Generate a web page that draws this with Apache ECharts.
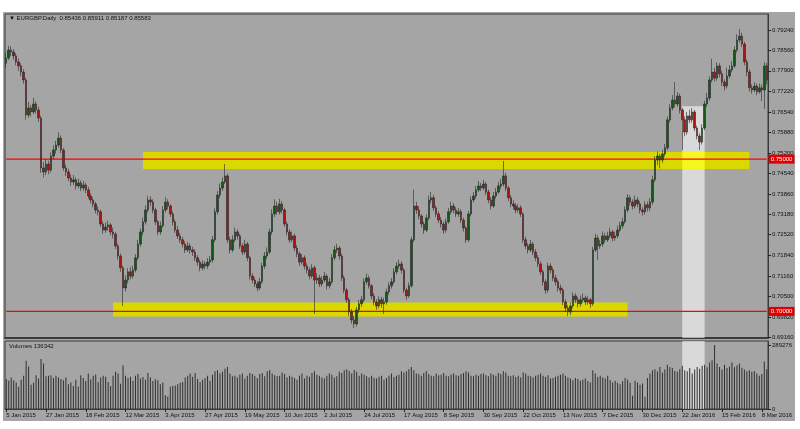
<!DOCTYPE html>
<html><head><meta charset="utf-8">
<script src="https://cdn.jsdelivr.net/npm/echarts@6/dist/echarts.min.js"></script>
<style>html,body{margin:0;padding:0;background:#fff}#c{width:800px;height:429px}</style>
</head><body><div id="c"></div>
<script>
const symbolTitle = '\u25BC EURGBP.Daily  0.85436 0.85911 0.85187 0.85583';
const volumeTitle = 'Volumes 136342';
const firstDate = '2015-01-05';
const barCount = 307;
const closedDays = ['12-25', '01-01'];
const monthNames = ['Jan','Feb','Mar','Apr','May','Jun','Jul','Aug','Sep','Oct','Nov','Dec'];
const priceTicks = [0.69160,0.69820,0.70500,0.71160,0.71840,0.72520,0.73180,0.73860,0.74540,0.75200,0.75880,0.76540,0.77220,0.77900,0.78560,0.79240];
const volumeTicks = [0, 289276];
const levelLines = [0.75000, 0.70000];
const resistanceZone = {bars: [55, 299], prices: [0.74677, 0.75235]};
const supportZone = {bars: [43, 250], prices: [0.69835, 0.70294]};
const highlight = {bars: [272, 281], top: 0.7674};

const open = [
0.7815,0.7832,0.7858,0.7852,0.7839,0.7819,0.7806,0.7786,0.7760,0.7645,
0.7668,0.7655,0.7681,0.7661,0.7635,0.7471,0.7458,0.7484,0.7464,0.7510,
0.7530,0.7546,0.7569,0.7530,0.7471,0.7458,0.7438,0.7425,0.7432,0.7412,
0.7422,0.7405,0.7415,0.7399,0.7379,0.7366,0.7353,0.7333,0.7327,0.7287,
0.7267,0.7277,0.7284,0.7261,0.7254,0.7215,0.7182,0.7143,0.7077,0.7103,
0.7130,0.7116,0.7136,0.7176,0.7221,0.7261,0.7294,0.7333,0.7366,0.7359,
0.7333,0.7294,0.7261,0.7281,0.7333,0.7359,0.7346,0.7320,0.7294,0.7267,
0.7248,0.7235,0.7221,0.7202,0.7215,0.7202,0.7195,0.7176,0.7162,0.7143,
0.7156,0.7149,0.7162,0.7169,0.7235,0.7327,0.7382,0.7405,0.7425,0.7445,
0.7235,0.7202,0.7235,0.7261,0.7248,0.7215,0.7195,0.7221,0.7176,0.7116,
0.7103,0.7090,0.7077,0.7097,0.7149,0.7182,0.7195,0.7261,0.7320,0.7346,
0.7327,0.7353,0.7333,0.7287,0.7261,0.7235,0.7248,0.7208,0.7189,0.7162,
0.7176,0.7149,0.7136,0.7116,0.7143,0.7103,0.7110,0.7090,0.7103,0.7116,
0.7084,0.7097,0.7176,0.7202,0.7208,0.7182,0.7110,0.7070,0.7038,0.6998,
0.6972,0.6959,0.7005,0.7025,0.7038,0.7097,0.7110,0.7084,0.7051,0.7031,
0.7018,0.7038,0.7025,0.7031,0.7064,0.7084,0.7097,0.7130,0.7149,0.7156,
0.7136,0.7070,0.7051,0.7084,0.7235,0.7346,0.7333,0.7313,0.7287,0.7267,
0.7307,0.7366,0.7373,0.7340,0.7320,0.7300,0.7287,0.7267,0.7294,0.7327,
0.7346,0.7333,0.7320,0.7327,0.7300,0.7274,0.7235,0.7320,0.7366,0.7379,
0.7399,0.7412,0.7405,0.7418,0.7392,0.7366,0.7346,0.7379,0.7392,0.7412,
0.7418,0.7445,0.7405,0.7373,0.7353,0.7346,0.7333,0.7340,0.7320,0.7235,
0.7215,0.7202,0.7221,0.7195,0.7176,0.7156,0.7130,0.7097,0.7070,0.7149,
0.7136,0.7110,0.7097,0.7077,0.7070,0.7031,0.7011,0.6998,0.7018,0.7051,
0.7038,0.7025,0.7038,0.7044,0.7031,0.7038,0.7025,0.7202,0.7241,0.7215,
0.7221,0.7248,0.7235,0.7248,0.7261,0.7241,0.7248,0.7267,0.7281,0.7294,
0.7333,0.7373,0.7359,0.7346,0.7366,0.7353,0.7333,0.7327,0.7350,0.7340,
0.7359,0.7432,0.7497,0.7510,0.7497,0.7517,0.7537,0.7629,0.7668,0.7694,
0.7681,0.7707,0.7661,0.7629,0.7589,0.7642,0.7629,0.7655,0.7602,0.7576,
0.7556,0.7602,0.7681,0.7701,0.7760,0.7786,0.7766,0.7806,0.7780,0.7753,
0.7740,0.7773,0.7793,0.7806,0.7858,0.7891,0.7904,0.7878,0.7819,0.7786,
0.7734,0.7727,0.7740,0.7721,0.7734,0.7727,0.7806];
const close = [
0.7832,0.7858,0.7852,0.7839,0.7819,0.7806,0.7786,0.7760,0.7645,0.7668,
0.7655,0.7681,0.7661,0.7635,0.7471,0.7458,0.7484,0.7464,0.7510,0.7530,
0.7546,0.7569,0.7530,0.7471,0.7458,0.7438,0.7425,0.7432,0.7412,0.7422,
0.7405,0.7415,0.7399,0.7379,0.7366,0.7353,0.7333,0.7327,0.7287,0.7267,
0.7277,0.7284,0.7261,0.7254,0.7215,0.7182,0.7143,0.7077,0.7103,0.7130,
0.7116,0.7136,0.7176,0.7221,0.7261,0.7294,0.7333,0.7366,0.7359,0.7333,
0.7294,0.7261,0.7281,0.7333,0.7359,0.7346,0.7320,0.7294,0.7267,0.7248,
0.7235,0.7221,0.7202,0.7215,0.7202,0.7195,0.7176,0.7162,0.7143,0.7156,
0.7149,0.7162,0.7169,0.7235,0.7327,0.7382,0.7405,0.7425,0.7445,0.7235,
0.7202,0.7235,0.7261,0.7248,0.7215,0.7195,0.7221,0.7176,0.7116,0.7103,
0.7090,0.7077,0.7097,0.7149,0.7182,0.7195,0.7261,0.7320,0.7346,0.7327,
0.7353,0.7333,0.7287,0.7261,0.7235,0.7248,0.7208,0.7189,0.7162,0.7176,
0.7149,0.7136,0.7116,0.7143,0.7103,0.7110,0.7090,0.7103,0.7116,0.7084,
0.7097,0.7176,0.7202,0.7208,0.7182,0.7110,0.7070,0.7038,0.6998,0.6972,
0.6959,0.7005,0.7025,0.7038,0.7097,0.7110,0.7084,0.7051,0.7031,0.7018,
0.7038,0.7025,0.7031,0.7064,0.7084,0.7097,0.7130,0.7149,0.7156,0.7136,
0.7070,0.7051,0.7084,0.7235,0.7346,0.7333,0.7313,0.7287,0.7267,0.7307,
0.7366,0.7373,0.7340,0.7320,0.7300,0.7287,0.7267,0.7294,0.7327,0.7346,
0.7333,0.7320,0.7327,0.7300,0.7274,0.7235,0.7320,0.7366,0.7379,0.7399,
0.7412,0.7405,0.7418,0.7392,0.7366,0.7346,0.7379,0.7392,0.7412,0.7418,
0.7445,0.7405,0.7373,0.7353,0.7346,0.7333,0.7340,0.7320,0.7235,0.7215,
0.7202,0.7221,0.7195,0.7176,0.7156,0.7130,0.7097,0.7070,0.7149,0.7136,
0.7110,0.7097,0.7077,0.7070,0.7031,0.7011,0.6998,0.7018,0.7051,0.7038,
0.7025,0.7038,0.7044,0.7031,0.7038,0.7025,0.7202,0.7241,0.7215,0.7221,
0.7248,0.7235,0.7248,0.7261,0.7241,0.7248,0.7267,0.7281,0.7294,0.7333,
0.7373,0.7359,0.7346,0.7366,0.7353,0.7333,0.7327,0.7350,0.7340,0.7359,
0.7432,0.7497,0.7510,0.7497,0.7517,0.7537,0.7629,0.7668,0.7694,0.7681,
0.7707,0.7661,0.7629,0.7589,0.7642,0.7629,0.7655,0.7602,0.7576,0.7556,
0.7602,0.7681,0.7701,0.7760,0.7786,0.7766,0.7806,0.7780,0.7753,0.7740,
0.7773,0.7793,0.7806,0.7858,0.7891,0.7904,0.7878,0.7819,0.7786,0.7734,
0.7727,0.7740,0.7721,0.7734,0.7727,0.7806,0.7760];
const high = [
0.7850,0.7872,0.7870,0.7861,0.7848,0.7830,0.7815,0.7795,0.7766,0.7688,
0.7678,0.7701,0.7690,0.7672,0.7642,0.7490,0.7500,0.7495,0.7522,0.7545,
0.7560,0.7588,0.7578,0.7536,0.7482,0.7468,0.7450,0.7448,0.7440,0.7436,
0.7430,0.7428,0.7422,0.7408,0.7388,0.7375,0.7360,0.7345,0.7334,0.7296,
0.7292,0.7298,0.7290,0.7275,0.7260,0.7222,0.7190,0.7150,0.7118,0.7142,
0.7145,0.7150,0.7188,0.7235,0.7272,0.7308,0.7348,0.7380,0.7378,0.7368,
0.7340,0.7300,0.7295,0.7345,0.7375,0.7368,0.7352,0.7328,0.7302,0.7280,
0.7258,0.7245,0.7230,0.7228,0.7224,0.7212,0.7204,0.7185,0.7170,0.7168,
0.7165,0.7175,0.7182,0.7248,0.7338,0.7395,0.7420,0.7440,0.7484,0.7452,
0.7245,0.7250,0.7275,0.7270,0.7255,0.7224,0.7235,0.7228,0.7182,0.7125,
0.7112,0.7100,0.7110,0.7160,0.7195,0.7210,0.7272,0.7335,0.7368,0.7360,
0.7370,0.7362,0.7340,0.7295,0.7270,0.7262,0.7255,0.7218,0.7196,0.7188,
0.7184,0.7158,0.7145,0.7155,0.7150,0.7125,0.7120,0.7115,0.7130,0.7122,
0.7110,0.7188,0.7215,0.7222,0.7215,0.7190,0.7118,0.7078,0.7045,0.7008,
0.6985,0.7015,0.7038,0.7050,0.7108,0.7125,0.7118,0.7090,0.7060,0.7040,
0.7050,0.7048,0.7045,0.7075,0.7095,0.7110,0.7142,0.7162,0.7170,0.7165,
0.7142,0.7078,0.7095,0.7245,0.7400,0.7360,0.7345,0.7320,0.7295,0.7318,
0.7380,0.7392,0.7382,0.7348,0.7328,0.7310,0.7295,0.7305,0.7340,0.7360,
0.7355,0.7342,0.7340,0.7335,0.7308,0.7280,0.7330,0.7378,0.7392,0.7412,
0.7428,0.7422,0.7432,0.7425,0.7400,0.7375,0.7392,0.7405,0.7425,0.7435,
0.7494,0.7455,0.7412,0.7382,0.7365,0.7355,0.7352,0.7348,0.7325,0.7245,
0.7224,0.7235,0.7228,0.7205,0.7185,0.7165,0.7138,0.7105,0.7160,0.7158,
0.7145,0.7120,0.7105,0.7088,0.7078,0.7040,0.7020,0.7030,0.7062,0.7060,
0.7048,0.7052,0.7058,0.7052,0.7050,0.7045,0.7212,0.7255,0.7250,0.7235,
0.7262,0.7258,0.7262,0.7275,0.7268,0.7262,0.7282,0.7295,0.7308,0.7345,
0.7385,0.7382,0.7368,0.7380,0.7375,0.7362,0.7342,0.7362,0.7360,0.7372,
0.7445,0.7510,0.7525,0.7518,0.7530,0.7550,0.7640,0.7680,0.7710,0.7753,
0.7720,0.7715,0.7668,0.7640,0.7655,0.7662,0.7668,0.7662,0.7610,0.7585,
0.7615,0.7692,0.7718,0.7772,0.7830,0.7800,0.7818,0.7815,0.7790,0.7762,
0.7800,0.7808,0.7822,0.7870,0.7910,0.7927,0.7915,0.7885,0.7828,0.7795,
0.7745,0.7752,0.7748,0.7748,0.7745,0.7818,0.7815];
const low = [
0.7800,0.7825,0.7838,0.7826,0.7808,0.7790,0.7772,0.7748,0.7630,0.7636,
0.7640,0.7648,0.7650,0.7622,0.7455,0.7440,0.7448,0.7450,0.7455,0.7500,
0.7518,0.7538,0.7520,0.7462,0.7445,0.7428,0.7412,0.7415,0.7400,0.7404,
0.7395,0.7396,0.7388,0.7370,0.7355,0.7342,0.7322,0.7315,0.7278,0.7255,
0.7258,0.7265,0.7250,0.7240,0.7205,0.7170,0.7130,0.7018,0.7065,0.7092,
0.7105,0.7108,0.7128,0.7168,0.7212,0.7250,0.7285,0.7325,0.7345,0.7322,
0.7284,0.7250,0.7252,0.7275,0.7325,0.7335,0.7310,0.7282,0.7258,0.7238,
0.7225,0.7210,0.7192,0.7195,0.7190,0.7182,0.7165,0.7150,0.7132,0.7135,
0.7138,0.7140,0.7152,0.7160,0.7228,0.7318,0.7372,0.7395,0.7418,0.7225,
0.7190,0.7195,0.7228,0.7236,0.7205,0.7185,0.7188,0.7165,0.7105,0.7092,
0.7080,0.7066,0.7070,0.7090,0.7140,0.7172,0.7188,0.7252,0.7310,0.7318,
0.7318,0.7322,0.7278,0.7250,0.7225,0.7228,0.7198,0.7178,0.7150,0.7154,
0.7138,0.7125,0.7105,0.7108,0.6992,0.7090,0.7080,0.7082,0.7095,0.7072,
0.7075,0.7090,0.7168,0.7192,0.7170,0.7100,0.7060,0.7028,0.6985,0.6960,
0.6945,0.6950,0.6995,0.7015,0.7030,0.7088,0.7075,0.7040,0.7020,0.7005,
0.7010,0.7012,0.6992,0.7022,0.7055,0.7075,0.7090,0.7122,0.7140,0.7125,
0.7060,0.7038,0.7045,0.7078,0.7228,0.7320,0.7302,0.7275,0.7255,0.7260,
0.7300,0.7355,0.7330,0.7310,0.7290,0.7275,0.7255,0.7258,0.7288,0.7318,
0.7322,0.7310,0.7310,0.7290,0.7262,0.7225,0.7228,0.7312,0.7358,0.7370,
0.7392,0.7395,0.7398,0.7382,0.7355,0.7335,0.7340,0.7370,0.7385,0.7402,
0.7410,0.7395,0.7362,0.7342,0.7335,0.7322,0.7325,0.7310,0.7225,0.7205,
0.7190,0.7195,0.7185,0.7165,0.7145,0.7120,0.7085,0.7058,0.7062,0.7125,
0.7100,0.7085,0.7065,0.7058,0.7020,0.6998,0.6985,0.6988,0.7010,0.7028,
0.7012,0.7015,0.7030,0.7020,0.7022,0.7012,0.7018,0.7195,0.7169,0.7205,
0.7212,0.7225,0.7228,0.7240,0.7230,0.7232,0.7240,0.7260,0.7272,0.7288,
0.7325,0.7348,0.7335,0.7338,0.7342,0.7322,0.7315,0.7318,0.7328,0.7330,
0.7350,0.7425,0.7480,0.7470,0.7488,0.7508,0.7530,0.7620,0.7660,0.7670,
0.7672,0.7650,0.7530,0.7575,0.7580,0.7618,0.7620,0.7592,0.7565,0.7530,
0.7548,0.7595,0.7672,0.7692,0.7752,0.7755,0.7758,0.7768,0.7740,0.7725,
0.7732,0.7765,0.7785,0.7800,0.7850,0.7882,0.7868,0.7808,0.7772,0.7722,
0.7715,0.7720,0.7710,0.7715,0.7690,0.7665,0.7745];
const volume = [
135000,128000,142000,130000,120000,100000,132000,150000,218000,192000,
110000,118000,152000,138000,226000,205000,148000,150000,152000,140000,
150000,142000,136000,130000,142000,112000,120000,104000,132000,102000,
152000,140000,126000,160000,134000,150000,156000,122000,142000,150000,
146000,122000,104000,150000,168000,160000,114000,196000,150000,140000,
146000,128000,150000,158000,138000,144000,132000,162000,142000,126000,
134000,130000,112000,120000,62000,56000,100000,104000,106000,112000,
118000,122000,142000,150000,160000,146000,162000,136000,122000,132000,
140000,150000,128000,155000,170000,175000,160000,168000,182000,190000,
160000,148000,150000,142000,155000,160000,138000,150000,162000,158000,
150000,140000,158000,162000,148000,170000,176000,160000,152000,148000,
150000,165000,158000,142000,150000,146000,140000,132000,150000,160000,
138000,150000,146000,162000,170000,155000,150000,142000,138000,150000,
160000,155000,142000,148000,168000,162000,175000,180000,172000,160000,
176000,168000,150000,160000,155000,148000,142000,150000,140000,138000,
146000,150000,132000,140000,150000,160000,145000,150000,155000,170000,
165000,170000,180000,190000,175000,160000,158000,150000,162000,170000,
158000,150000,148000,160000,152000,155000,162000,150000,148000,156000,
160000,152000,150000,158000,162000,170000,165000,150000,148000,155000,
150000,158000,160000,152000,148000,160000,155000,150000,162000,158000,
170000,165000,150000,148000,152000,145000,150000,142000,165000,160000,
150000,148000,142000,150000,155000,160000,150000,145000,152000,138000,
140000,146000,150000,155000,160000,150000,142000,138000,130000,140000,
135000,128000,132000,138000,126000,120000,175000,160000,145000,150000,
142000,138000,150000,130000,120000,128000,118000,112000,125000,140000,
132000,118000,60000,128000,120000,110000,115000,55000,140000,160000,
175000,180000,170000,190000,165000,178000,200000,190000,185000,172000,
168000,180000,195000,175000,170000,185000,160000,178000,190000,182000,
195000,200000,188000,210000,220000,289000,205000,190000,178000,200000,
185000,192000,210000,188000,196000,205000,186000,178000,170000,175000,
168000,172000,160000,150000,158000,215000,180000];

// trading-day categories
const dates = [];
(function(){
  const d = new Date(firstDate + 'T00:00:00Z');
  while (dates.length < barCount) {
    const wd = d.getUTCDay();
    const iso = d.toISOString().slice(0, 10);
    if (wd !== 0 && wd !== 6 && closedDays.indexOf(iso.slice(5)) < 0) dates.push(iso);
    d.setUTCDate(d.getUTCDate() + 1);
  }
})();
function fmtDate(s){ const p = s.split('-'); return (+p[2]) + ' ' + monthNames[+p[1]-1] + ' ' + p[0]; }

const FONT = '"Liberation Sans", Arial, sans-serif';
const TXT = '#111';
const RED = '#ff0000';
const chart = echarts.init(document.getElementById('c'), null, {renderer: 'canvas'});
const priceMin = 0.69127, priceMax = 0.79765, volMax = 307000;

// rectangles on the price panel: [firstBar, lastBar, lowPrice, highPrice]
const priceRects = [
  [highlight.bars[0], highlight.bars[1], priceMin, highlight.top],
  [resistanceZone.bars[0], resistanceZone.bars[1], resistanceZone.prices[0], resistanceZone.prices[1]],
  [supportZone.bars[0], supportZone.bars[1], supportZone.prices[0], supportZone.prices[1]],
  [highlight.bars[0], highlight.bars[1], resistanceZone.prices[0], resistanceZone.prices[1]]
];
const priceRectColors = ['rgba(255,255,255,0.58)', '#d9d900', '#d9d900', '#f7f720'];
const volumeRects = [[highlight.bars[0], highlight.bars[1], 0, volMax]];

function rectRenderer(colors) {
  return function (params, api) {
    const p0 = api.coord([api.value(0), api.value(3)]);
    const p1 = api.coord([api.value(1), api.value(2)]);
    return {type: 'rect', shape: {x: p0[0], y: p0[1], width: p1[0] - p0[0], height: p1[1] - p0[1]},
            style: {fill: colors[params.dataIndex]}, silent: true};
  };
}

const levelSeries = levelLines.map(v => ({
  type: 'line', xAxisIndex: 0, yAxisIndex: 0, z: 4, silent: true,
  symbol: 'none', showSymbol: false,
  lineStyle: {color: RED, width: 1.2, type: 'solid'},
  itemStyle: {color: RED},
  emphasis: {disabled: true},
  data: [[dates[0], v], [dates[dates.length - 1], v]],
  endLabel: {show: true, distance: 2, formatter: () => v.toFixed(5), backgroundColor: '#e00000', color: '#ffffff',
    fontSize: 6, fontFamily: FONT, padding: [2, 2, 1, 2]}
}));

chart.setOption({
  animation: false,
  backgroundColor: '#ffffff',
  graphic: [
    {type: 'rect', z: -100, silent: true, shape: {x: 3, y: 12, width: 792, height: 409}, style: {fill: '#a5a5a5'}},
    {type: 'text', z: 100, left: 9, top: 15, style: {text: symbolTitle, font: '6px ' + FONT, fill: TXT}},
    {type: 'text', z: 100, left: 9, top: 343, style: {text: volumeTitle, font: '6px ' + FONT, fill: TXT}}
  ],
  grid: [
    {left: 5, top: 14, width: 763, height: 324, show: true, borderColor: '#3a3a3a', borderWidth: 1, backgroundColor: 'transparent'},
    {left: 5, top: 341, width: 763, height: 68, show: true, borderColor: '#3a3a3a', borderWidth: 1, backgroundColor: 'transparent'}
  ],
  xAxis: [
    {type: 'category', gridIndex: 0, data: dates, boundaryGap: true,
     axisLine: {show: true, lineStyle: {color: '#3a3a3a', width: 2}}, axisTick: {show: false}, axisLabel: {show: false}, splitLine: {show: false}},
    {type: 'category', gridIndex: 1, data: dates, boundaryGap: true,
     axisLine: {show: true, lineStyle: {color: '#3a3a3a'}},
     axisTick: {show: true, alignWithLabel: true, interval: 15, length: 3, lineStyle: {color: '#222'}},
     axisLabel: {interval: 15, align: 'left', margin: 3, fontSize: 6, fontFamily: FONT, color: TXT, formatter: fmtDate},
     splitLine: {show: false}}
  ],
  yAxis: [
    {type: 'value', gridIndex: 0, position: 'right', min: priceMin, max: priceMax,
     axisLine: {show: true, lineStyle: {color: '#3a3a3a'}},
     axisTick: {show: true, customValues: priceTicks, length: 3, lineStyle: {color: '#222'}},
     axisLabel: {customValues: priceTicks, formatter: v => v.toFixed(5), fontSize: 6, fontFamily: FONT, color: TXT, margin: 4},
     splitLine: {show: false}},
    {type: 'value', gridIndex: 1, position: 'right', min: 0, max: volMax,
     axisLine: {show: true, lineStyle: {color: '#3a3a3a'}},
     axisTick: {show: true, customValues: volumeTicks, length: 3, lineStyle: {color: '#222'}},
     axisLabel: {customValues: volumeTicks, formatter: v => String(v), fontSize: 6, fontFamily: FONT, color: TXT, margin: 4},
     splitLine: {show: false}}
  ],
  series: [
    {type: 'custom', name: 'zones', xAxisIndex: 0, yAxisIndex: 0, z: 1, silent: true,
     renderItem: rectRenderer(priceRectColors), encode: {x: [0, 1], y: [2, 3]}, data: priceRects},
    ...levelSeries,
    {type: 'candlestick', name: 'EURGBP', xAxisIndex: 0, yAxisIndex: 0, z: 5,
     barWidth: 2,
     itemStyle: {color: '#0f5a14', color0: '#b01212', borderColor: '#262626', borderColor0: '#262626', borderWidth: 0.6},
     data: dates.map((_, i) => [open[i], close[i], low[i], high[i]])},
    {type: 'custom', name: 'volumeBand', xAxisIndex: 1, yAxisIndex: 1, z: 1, silent: true,
     renderItem: rectRenderer(['rgba(255,255,255,0.58)']), encode: {x: [0, 1], y: [2, 3]}, data: volumeRects},
    {type: 'bar', name: 'Volumes', xAxisIndex: 1, yAxisIndex: 1, z: 3, barWidth: 1,
     itemStyle: {color: '#303030'}, data: volume}
  ]
});
</script></body></html>
